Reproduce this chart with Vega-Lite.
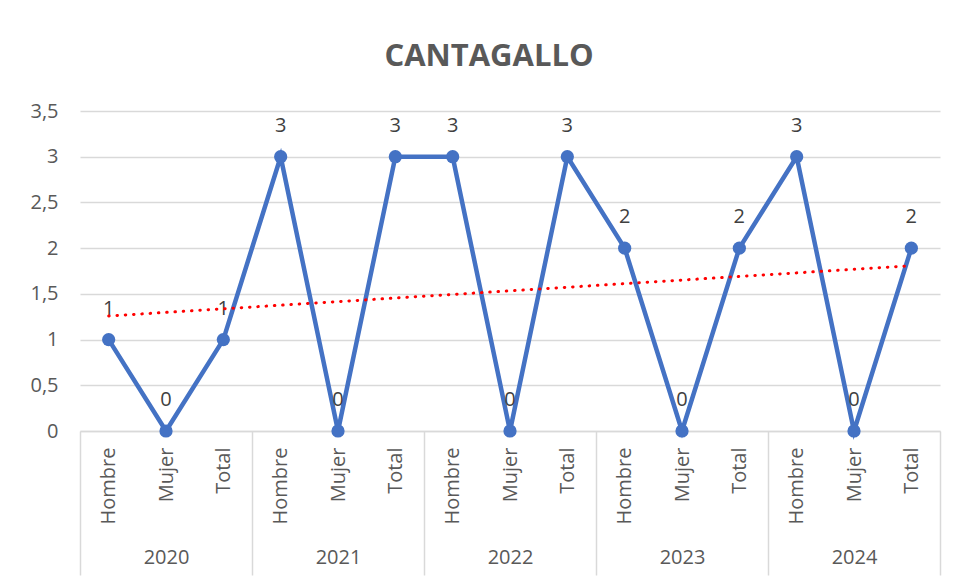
{
  "$schema": "https://vega.github.io/schema/vega-lite/v6.json",
  "width": 860,
  "height": 320,
  "autosize": "none",
  "padding": {"left": 80, "top": 111, "right": 16, "bottom": 148},
  "background": "white",
  "config": {
    "font": "Open Sans",
    "view": {"stroke": null}
  },
  "title": {
    "text": "CANTAGALLO",
    "fontSize": 31,
    "fontWeight": "bold",
    "color": "#595959",
    "font": "Open Sans",
    "anchor": "middle",
    "dx": -21,
    "offset": 28
  },
  "datasets": {
    "main": [
      {"cat": "2020|Hombre", "year": "2020", "value": 1},
      {"cat": "2020|Mujer", "year": "2020", "value": 0},
      {"cat": "2020|Total", "year": "2020", "value": 1},
      {"cat": "2021|Hombre", "year": "2021", "value": 3},
      {"cat": "2021|Mujer", "year": "2021", "value": 0},
      {"cat": "2021|Total", "year": "2021", "value": 3},
      {"cat": "2022|Hombre", "year": "2022", "value": 3},
      {"cat": "2022|Mujer", "year": "2022", "value": 0},
      {"cat": "2022|Total", "year": "2022", "value": 3},
      {"cat": "2023|Hombre", "year": "2023", "value": 2},
      {"cat": "2023|Mujer", "year": "2023", "value": 0},
      {"cat": "2023|Total", "year": "2023", "value": 2},
      {"cat": "2024|Hombre", "year": "2024", "value": 3},
      {"cat": "2024|Mujer", "year": "2024", "value": 0},
      {"cat": "2024|Total", "year": "2024", "value": 2}
    ],
    "trend": [
      {"cat": "2020|Hombre", "trend": 1.258},
      {"cat": "2024|Total", "trend": 1.808}
    ]
  },
  "layer": [
    {
      "data": {"name": "main"},
      "layer": [
        {
          "mark": {"type": "line", "color": "#4472C4", "strokeWidth": 4.5, "point": {"filled": true, "size": 175, "color": "#4472C4"}},
          "encoding": {
            "x": {
              "field": "cat", "type": "ordinal", "sort": null,
              "axis": {
                "orient": "bottom",
                "title": null,
                "labelExpr": "split(datum.value, '|')[1]",
                "labelAngle": -90,
                "labelFontSize": 20,
                "labelColor": "#595959",
                "labelPadding": 16,
                "ticks": false,
                "domain": false,
                "grid": false
              }
            },
            "y": {
              "field": "value", "type": "quantitative",
              "scale": {"domain": [0, 3.5]},
              "axis": {
                "title": null,
                "values": [0, 0.5, 1, 1.5, 2, 2.5, 3, 3.5],
                "labelExpr": "replace(toString(datum.value), '.', ',')",
                "labelFontSize": 20,
                "labelColor": "#595959",
                "labelPadding": 22,
                "ticks": false,
                "domain": false,
                "gridColor": "#D9D9D9",
                "gridWidth": 1.5
              }
            }
          }
        },
        {
          "mark": {"type": "text", "dy": -31, "fontSize": 20, "color": "#404040", "baseline": "middle"},
          "encoding": {
            "x": {"field": "cat", "type": "ordinal", "sort": null},
            "y": {"field": "value", "type": "quantitative"},
            "text": {"field": "value", "type": "quantitative"}
          }
        },
        {
          "data": {"name": "trend"},
          "mark": {"type": "line", "color": "#FF0000", "strokeWidth": 3, "strokeCap": "round", "strokeDash": [0.5, 7.8]},
          "encoding": {
            "x": {"field": "cat", "type": "ordinal", "sort": null},
            "y": {"field": "trend", "type": "quantitative"}
          }
        }
      ]
    },
    {
      "data": {"name": "main"},
      "mark": {"type": "rule", "strokeOpacity": 0},
      "encoding": {
        "x": {
          "field": "year", "type": "nominal",
          "scale": {"type": "band", "paddingInner": 0, "paddingOuter": 0},
          "axis": {
            "orient": "bottom",
            "title": null,
            "tickBand": "extent",
            "tickSize": 144,
            "tickColor": "#D9D9D9",
            "tickWidth": 1.5,
            "domainColor": "#D9D9D9",
            "domainWidth": 1.5,
            "labelFontSize": 20,
            "labelColor": "#595959",
            "labelAngle": 0,
            "labelPadding": -28,
            "labelBaseline": "top",
            "grid": false
          }
        }
      }
    }
  ],
  "resolve": {"scale": {"x": "independent"}, "axis": {"x": "independent"}}
}
